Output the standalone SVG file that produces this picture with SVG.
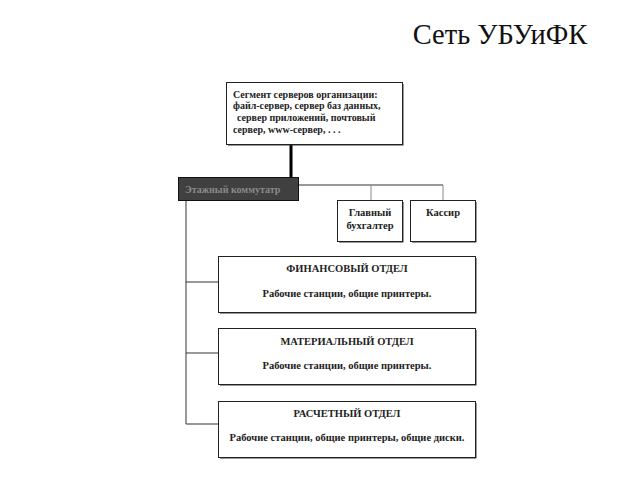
<svg xmlns="http://www.w3.org/2000/svg" width="640" height="480" viewBox="0 0 640 480">
<style>
.box{fill:#fff;stroke:#222;stroke-width:1}
.sh{fill:#333}
.t{font-family:"Liberation Serif",serif;font-weight:bold;font-size:10.5px;fill:#222}
.s{font-size:10px}
.c{text-anchor:middle}
.ln{stroke:#333;stroke-width:1;fill:none}
.ln2{stroke:#888;stroke-width:1;fill:none}
</style>
<rect width="640" height="480" fill="#fff"/>
<text x="500" y="44" text-anchor="middle" font-family="'Liberation Serif',serif" font-size="28.5" fill="#111">Сеть УБУиФК</text>
<g id="connectors">
<line x1="291" y1="144" x2="291" y2="178" stroke="#000" stroke-width="3"/>
<polyline class="ln" points="298,185 443,185"/>
<line class="ln2" x1="371" y1="185" x2="371" y2="201"/>
<line class="ln2" x1="443" y1="185" x2="443" y2="201"/>
<polyline class="ln" points="186,200 186,424 219,424"/>
<line class="ln" x1="186" y1="282" x2="219" y2="282"/>
<line class="ln" x1="186" y1="353" x2="219" y2="353"/>
</g>
<g id="servers">
<rect class="sh" x="228" y="84" width="175.5" height="61.5"/>
<rect class="box" x="226.5" y="82.5" width="176" height="62"/>
<text class="t s" x="233" y="98">Сегмент серверов организации:</text>
<text class="t s" x="233" y="109">файл-сервер, сервер баз данных,</text>
<text class="t s" x="237" y="121">сервер приложений, почтовый</text>
<text class="t s" x="233" y="133">сервер, www-сервер, . . .</text>
</g>
<g id="switch">
<rect x="178.5" y="177.5" width="120" height="23" fill="#404040" stroke="#111" stroke-width="1"/>
<text class="t" x="185" y="193" style="fill:#8a8a8a;font-size:10px">Этажный коммутатр</text>
</g>
<g id="accountant">
<rect class="sh" x="339" y="202" width="64.5" height="40.5"/>
<rect class="box" x="337.5" y="200.5" width="65" height="41"/>
<text class="t c" x="370" y="216">Главный</text>
<text class="t c" x="370" y="229">бухгалтер</text>
</g>
<g id="cashier">
<rect class="sh" x="412" y="202" width="64.5" height="40.5"/>
<rect class="box" x="410.5" y="200.5" width="65" height="41"/>
<text class="t c" x="443" y="216">Кассир</text>
</g>
<g id="finance">
<rect class="sh" x="220" y="258" width="256.5" height="55.5"/>
<rect class="box" x="218.5" y="256.5" width="257" height="56"/>
<text class="t c" x="347" y="272">ФИНАНСОВЫЙ ОТДЕЛ</text>
<text class="t c" x="347" y="297">Рабочие станции, общие принтеры.</text>
</g>
<g id="material">
<rect class="sh" x="220" y="330" width="256.5" height="55.5"/>
<rect class="box" x="218.5" y="328.5" width="257" height="56"/>
<text class="t c" x="347" y="345">МАТЕРИАЛЬНЫЙ ОТДЕЛ</text>
<text class="t c" x="347" y="369">Рабочие станции, общие принтеры.</text>
</g>
<g id="payroll">
<rect class="sh" x="220" y="403" width="256.5" height="55.5"/>
<rect class="box" x="218.5" y="401.5" width="257" height="56"/>
<text class="t c" x="347" y="417">РАСЧЕТНЫЙ ОТДЕЛ</text>
<text class="t c" x="347" y="441">Рабочие станции, общие принтеры, общие диски.</text>
</g>
</svg>
